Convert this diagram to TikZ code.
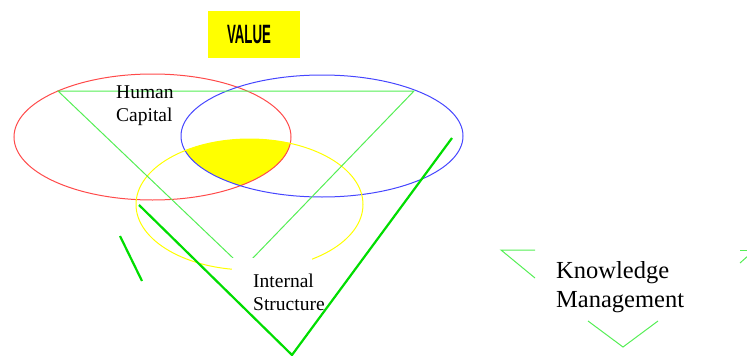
\documentclass[tikz,border=0pt]{standalone}
\usepackage{fontspec}
\setmainfont{Liberation Serif}
\newfontfamily\valuefont[FakeStretch=0.5]{Liberation Sans}
\usepackage{xcolor}
\definecolor{hcred}{HTML}{FF4A4A}
\definecolor{scblue}{HTML}{4646FF}
\definecolor{isyellow}{HTML}{FFFF00}
\definecolor{lgreen}{HTML}{55EE55}
\definecolor{dgreen}{HTML}{00DD00}
\usepackage{tikz}
\usetikzlibrary{positioning}
\tikzset{
  ring/.style={line width=1pt},
  thin/.style={draw=lgreen,line width=1pt},
  thick/.style={draw=dgreen,line width=2.2pt},
  lbl/.style={inner sep=0pt,align=left,anchor=north west,font=\fontsize{19.5}{23}\selectfont},
  biglbl/.style={lbl,font=\fontsize{24.5}{29}\selectfont},
  tagbox/.style={fill=isyellow,minimum width=92pt,minimum height=47pt,inner sep=0pt,
                 font=\valuefont\bfseries\fontsize{26.5}{27}\selectfont},
}

\begin{document}
\begin{tikzpicture}[x=1pt,y=-1pt]
  \useasboundingbox (0,0) rectangle (747,356);

  % overlap of the three rings
  \begin{scope}
    \clip (152.5,137) ellipse [x radius=138.5,y radius=63];
    \clip (322,136) ellipse [x radius=141,y radius=61];
    \fill[isyellow] (249.5,204.5) ellipse [x radius=113.5,y radius=65.5];
  \end{scope}
  \draw[ring,hcred] (152.5,137) ellipse [x radius=138.5,y radius=63];
  \draw[ring,scblue] (322,136) ellipse [x radius=141,y radius=61];
  \draw[ring,isyellow] (249.5,204.5) ellipse [x radius=113.5,y radius=65.5];

  \coordinate (hcl) at (58,91);
  \coordinate (hcr) at (414,91);
  \coordinate (hca) at (243.4,267.9);
  \draw[thin] (hca) -- (hcl) -- (hcr) -- cycle;

  % gap under the label
  \fill[white] (232,258) rectangle (312,318);

  \coordinate (isl) at (139,205);
  \coordinate (isr) at (452,138);
  \coordinate (isa) at (292,355);
  \draw[thick] (isl) -- (isa) -- (isr);
  \coordinate (s1) at (120,236);
  \coordinate (s2) at (142,281);
  \draw[thick] (s1) -- (s2);

  \coordinate (kml) at (501,250);
  \coordinate (kmt) at (535,250);
  \coordinate (kmd) at (535,278);
  \draw[thin] (kmt) -- (kml) -- (kmd);
  \coordinate (kmr) at (740,250);
  \coordinate (kmre) at (749,250);
  \coordinate (kmrd) at (740,263);
  \coordinate (kmru) at (749,255);
  \draw[thin] (kmr) -- (kmre);
  \draw[thin] (kmrd) -- (kmru);
  \coordinate (kv1) at (588,321);
  \coordinate (kv2) at (623,347);
  \coordinate (kv3) at (658,321);
  \draw[thin] (kv1) -- (kv2) -- (kv3);

  \node[tagbox] (value) at (254,34.5) {\raisebox{-2pt}{VALUE}\kern10pt};
  \node[lbl] (human) at (116,86) {Human\\Capital};
  \node[lbl] (internal) at (253,274) {Internal\\Structure};
  \node[biglbl] (knowledge) at (556,261) {Knowledge\\Management};
\end{tikzpicture}
\end{document}
